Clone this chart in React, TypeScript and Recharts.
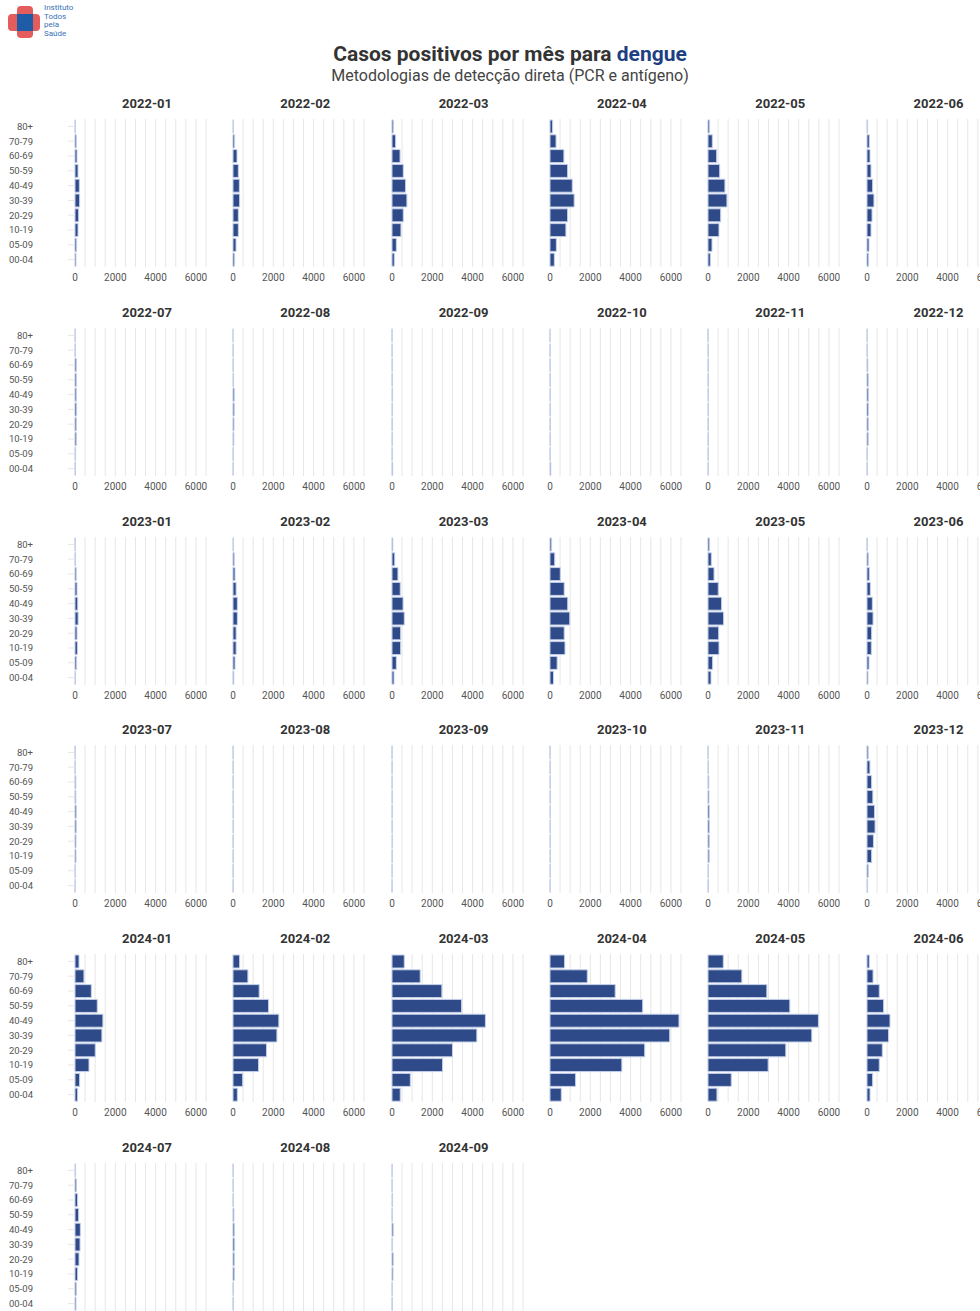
import { BarChart, Bar, XAxis, YAxis, CartesianGrid } from 'recharts';

const ageGroups = ['80+', '70-79', '60-69', '50-59', '40-49', '30-39', '20-29', '10-19', '05-09', '00-04'];

const months2022 = ['2022-01', '2022-02', '2022-03', '2022-04', '2022-05', '2022-06', '2022-07', '2022-08', '2022-09', '2022-10', '2022-11', '2022-12'];
const months2023 = ['2023-01', '2023-02', '2023-03', '2023-04', '2023-05', '2023-06', '2023-07', '2023-08', '2023-09', '2023-10', '2023-11', '2023-12'];
const months2024 = ['2024-01', '2024-02', '2024-03', '2024-04', '2024-05', '2024-06', '2024-07', '2024-08', '2024-09'];

// cases per age group, ordered as ageGroups (80+ first)
const cases2022 = [
    [15, 65, 100, 150, 215, 230, 180, 150, 80, 50],
    [20, 80, 200, 265, 315, 330, 265, 265, 150, 80],
    [65, 180, 400, 560, 675, 740, 560, 445, 215, 115],
    [130, 300, 690, 875, 1105, 1200, 875, 790, 315, 215],
    [80, 215, 430, 580, 840, 940, 630, 545, 200, 115],
    [30, 115, 150, 200, 280, 345, 250, 200, 100, 80],
    [5, 15, 65, 65, 65, 80, 65, 65, 30, 15],
    [2, 5, 10, 30, 60, 60, 50, 40, 10, 5],
    [3, 5, 10, 15, 30, 20, 15, 15, 10, 35],
    [2, 3, 5, 10, 10, 15, 15, 10, 5, 40],
    [3, 10, 15, 15, 20, 20, 15, 15, 10, 10],
    [5, 15, 40, 60, 70, 75, 65, 60, 15, 10],
];
const cases2023 = [
    [5, 20, 60, 100, 135, 155, 100, 120, 80, 20],
    [20, 60, 100, 155, 215, 215, 155, 155, 100, 40],
    [40, 135, 295, 410, 550, 610, 430, 430, 215, 100],
    [80, 235, 510, 705, 880, 980, 705, 745, 355, 175],
    [80, 165, 300, 510, 675, 775, 530, 545, 230, 150],
    [15, 65, 115, 165, 265, 300, 230, 215, 100, 50],
    [5, 10, 40, 40, 60, 60, 50, 50, 10, 5],
    [5, 10, 15, 15, 20, 20, 15, 15, 10, 5],
    [3, 5, 5, 10, 10, 10, 25, 10, 5, 3],
    [3, 5, 10, 15, 25, 20, 20, 20, 10, 5],
    [5, 20, 40, 50, 75, 75, 65, 60, 20, 15],
    [60, 145, 230, 290, 375, 400, 320, 230, 60, 30],
];
const cases2024 = [
    [200, 445, 810, 1105, 1385, 1335, 1005, 695, 230, 130],
    [330, 740, 1300, 1765, 2275, 2180, 1665, 1270, 480, 215],
    [610, 1400, 2475, 3450, 4635, 4210, 3000, 2510, 910, 410],
    [725, 1850, 3235, 4600, 6400, 5940, 4700, 3565, 1270, 560],
    [760, 1680, 2920, 4060, 5480, 5150, 3860, 2985, 1155, 445],
    [115, 300, 610, 825, 1140, 1070, 760, 610, 280, 150],
    [30, 65, 130, 180, 265, 250, 200, 130, 65, 50],
    [5, 5, 15, 45, 65, 80, 65, 65, 15, 15],
    [5, 5, 30, 10, 60, 10, 60, 50, 10, 10],
];

const xTicks = [0, 500, 1000, 1500, 2000, 2500, 3000, 3500, 4000, 4500, 5000, 5500, 6000, 6500];

const months = [...months2022, ...months2023, ...months2024];
const allCases = [...cases2022, ...cases2023, ...cases2024];

const FONT = 'Roboto, "Noto Sans", sans-serif';
const COL_W = 158.3;
const ROW_H = 208.8;

function Panel({ month, values, index }: { month: string; values: number[]; index: number }) {
    const col = index % 6;
    const row = Math.floor(index / 6);
    const data = ageGroups.map((age, i) => ({ age, cases: values[i] }));
    const left = col * COL_W;
    const top = 119 + row * ROW_H;
    const first = col === 0;

    return (
        <>
            <div
                style={{
                    position: 'absolute',
                    left: left + 75 + 72 - 60,
                    width: 120,
                    top: top - 23,
                    textAlign: 'center',
                    fontFamily: FONT,
                    fontWeight: 700,
                    fontSize: 13,
                    color: '#333',
                    lineHeight: '16px',
                }}
            >
                {month}
            </div>
            <div style={{ position: 'absolute', left, top }}>
                <BarChart
                    width={216}
                    height={168}
                    data={data}
                    layout="vertical"
                    margin={{ top: 0, right: 10, bottom: 0, left: 0 }}
                    barCategoryGap={1}
                >
                    <CartesianGrid horizontal={false} stroke="#e6e6e6" />
                    <XAxis
                        type="number"
                        domain={[0, 6500]}
                        ticks={xTicks}
                        interval={0}
                        axisLine={false}
                        tickLine={false}
                        tickSize={0}
                        tickMargin={7}
                        height={20}
                        tick={{ fill: '#555', fontSize: 10, fontFamily: FONT }}
                        tickFormatter={(v: number) => (v % 2000 === 0 ? String(v) : '')}
                    />
                    <YAxis
                        type="category"
                        dataKey="age"
                        width={75}
                        axisLine={false}
                        tickLine={first ? { stroke: '#e6e6e6' } : false}
                        tickSize={7}
                        tickMargin={35}
                        tick={first ? { fill: '#555', fontSize: 9.5, fontFamily: FONT } : false}
                        interval={0}
                    />
                    <Bar
                        dataKey="cases"
                        fill="#2f4a88"
                        stroke="#c5d1ea"
                        strokeWidth={1}
                        isAnimationActive={false}
                    />
                </BarChart>
            </div>
        </>
    );
}

function Logo() {
    return (
        <div style={{ position: 'absolute', left: 8, top: 6 }}>
            <svg width={34} height={34} style={{ position: 'absolute', left: 0, top: 0 }}>
                <rect x={9} y={0} width={16} height={32} rx={4} fill="#e45c5c" />
                <rect x={0} y={8} width={32} height={17} rx={4} fill="#e45c5c" />
                <rect x={9} y={8} width={16} height={17} fill="#1f5ca8" />
            </svg>
            <div
                style={{
                    position: 'absolute',
                    left: 36,
                    top: -2,
                    fontFamily: FONT,
                    fontSize: 8,
                    lineHeight: '8.6px',
                    color: '#3a72b8',
                    whiteSpace: 'nowrap',
                }}
            >
                Instituto
                <br />
                Todos
                <br />
                pela
                <br />
                Saúde
            </div>
        </div>
    );
}

export default function App() {
    return (
        <div
            style={{
                position: 'absolute',
                left: 0,
                top: 0,
                width: 980,
                height: 1311,
                overflow: 'hidden',
                background: '#fff',
            }}
        >
            <Logo />
            <div
                style={{
                    position: 'absolute',
                    left: 0,
                    width: 1020,
                    top: 41,
                    textAlign: 'center',
                    fontFamily: FONT,
                    fontWeight: 700,
                    fontSize: 21,
                    lineHeight: '26px',
                    color: '#333',
                }}
            >
                Casos positivos por mês para <span style={{ color: '#1e3f82' }}>dengue</span>
            </div>
            <div
                style={{
                    position: 'absolute',
                    left: 0,
                    width: 1020,
                    top: 65,
                    textAlign: 'center',
                    fontFamily: FONT,
                    fontSize: 16,
                    lineHeight: '22px',
                    color: '#444',
                }}
            >
                Metodologias de detecção direta (PCR e antígeno)
            </div>
            {months.map((m, i) => (
                <Panel key={m} month={m} values={allCases[i]} index={i} />
            ))}
        </div>
    );
}
